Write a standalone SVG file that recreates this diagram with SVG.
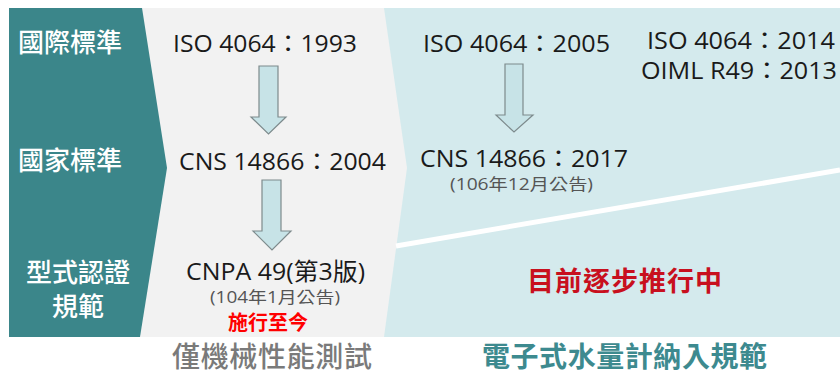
<svg xmlns="http://www.w3.org/2000/svg" width="840" height="374" viewBox="0 0 840 374">
<style>
.lbl{font-family:"Noto Sans CJK TC","Noto Sans",sans-serif;fill:#ffffff;font-size:26px;font-weight:500;}
.std{font-family:"Open Sans","Noto Sans CJK TC",sans-serif;fill:#1a1a1a;font-size:24px;}
.note{font-family:"Open Sans","Noto Sans CJK TC",sans-serif;fill:#555555;font-size:16px;}
.red{font-family:"Noto Sans CJK TC",sans-serif;font-weight:bold;}
.cap{font-family:"Noto Sans CJK TC",sans-serif;font-size:28px;}
.arrow{fill:#c7e3e7;stroke:#7d8a8c;stroke-width:1.2;}
</style>
<g id="background">
<rect x="300" y="8" width="540" height="329" fill="#d4eaed"/>
<polygon points="9,8 384,8 407,168 384,337 9,337" fill="#f2f2f2"/>
<polygon points="9,8 142,8 167,168 140,337 9,337" fill="#3b868a"/>
<line x1="396" y1="246" x2="840" y2="170" stroke="#ffffff" stroke-width="5"/>
</g>
<g id="row-labels">
<text class="lbl" x="70" y="52" text-anchor="middle">國際標準</text>
<text class="lbl" x="70" y="170" text-anchor="middle">國家標準</text>
<text class="lbl" x="78" y="282" text-anchor="middle">型式認證</text>
<text class="lbl" x="78" y="316" text-anchor="middle">規範</text>
</g>
<g id="node-iso1993"><text class="std" x="173" y="52" textLength="184" lengthAdjust="spacingAndGlyphs">ISO 4064：1993</text></g>
<g id="node-cns2004"><text class="std" x="179" y="170" textLength="207" lengthAdjust="spacingAndGlyphs">CNS 14866：2004</text></g>
<g id="node-cnpa49">
<text class="std" x="186" y="280" textLength="179" lengthAdjust="spacingAndGlyphs">CNPA 49(第3版)</text>
<text class="note" x="210" y="303" textLength="130" lengthAdjust="spacingAndGlyphs">(104年1月公告)</text>
<text class="red" x="268" y="330" text-anchor="middle" font-size="20" fill="#ff0000">施行至今</text>
</g>
<g id="node-iso2005"><text class="std" x="423" y="52" textLength="187" lengthAdjust="spacingAndGlyphs">ISO 4064：2005</text></g>
<g id="node-cns2017">
<text class="std" x="420" y="167" textLength="208" lengthAdjust="spacingAndGlyphs">CNS 14866：2017</text>
<text class="note" x="450" y="190" textLength="143" lengthAdjust="spacingAndGlyphs">(106年12月公告)</text>
</g>
<g id="node-iso2014">
<text class="std" x="647" y="49" font-size="21" textLength="188" lengthAdjust="spacingAndGlyphs">ISO 4064：2014</text>
<text class="std" x="641" y="79" font-size="21" textLength="196" lengthAdjust="spacingAndGlyphs">OIML R49：2013</text>
</g>
<g id="node-progress"><text class="red" x="527" y="291" textLength="195" font-size="27" fill="#c8101e">目前逐步推行中</text></g>
<g id="captions">
<text class="cap" x="172" y="367" textLength="200" fill="#7a7a7a" font-weight="500">僅機械性能測試</text>
<text class="cap" x="482" y="367" textLength="285" fill="#3d8a8f" font-weight="bold">電子式水量計納入規範</text>
</g>
<g id="connectors">
<polygon class="arrow" points="259,66 278,66 278,117 286,117 268.5,134 251,117 259,117"/>
<polygon class="arrow" points="262,180 281,180 281,231 291,231 272,250 253,231 262,231"/>
<polygon class="arrow" points="505,64 523,64 523,115 533,115 514,132 496,115 505,115"/>
</g>
</svg>
